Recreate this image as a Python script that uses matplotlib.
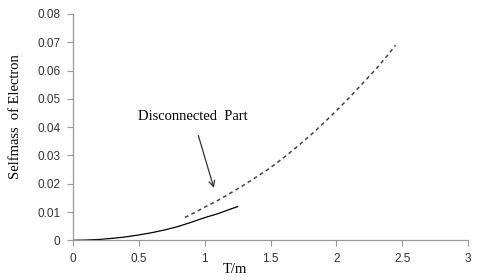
import matplotlib
matplotlib.use("Agg")
import matplotlib.pyplot as plt

# solid curve (connected part)
t_solid = [0.0, 0.1, 0.2, 0.3, 0.4, 0.5, 0.6, 0.7, 0.8, 0.9, 1.0, 1.1, 1.2, 1.25]
m_solid = [0.0, 0.0001, 0.0003, 0.0007, 0.0012, 0.0019, 0.0027, 0.0037, 0.0049,
           0.0064, 0.0080, 0.0094, 0.0111, 0.0119]

# dashed curve (disconnected part)
t_dash = [0.85, 0.9, 1.0, 1.1, 1.2, 1.3, 1.4, 1.5, 1.6, 1.7, 1.8, 1.9, 2.0,
          2.1, 2.2, 2.3, 2.4, 2.45]
m_dash = [0.0081, 0.0092, 0.0117, 0.0141, 0.0168, 0.0196, 0.0226, 0.0257, 0.0292,
          0.0330, 0.0370, 0.0413, 0.0458, 0.0505, 0.0555, 0.0605, 0.0660, 0.0690]

xticks = [0, 0.5, 1, 1.5, 2, 2.5, 3]
xticklabels = ["0", "0.5", "1", "1.5", "2", "2.5", "3"]
yticks = [0, 0.01, 0.02, 0.03, 0.04, 0.05, 0.06, 0.07, 0.08]
yticklabels = ["0", "0.01", "0.02", "0.03", "0.04", "0.05", "0.06", "0.07", "0.08"]

serif = ["Liberation Serif", "DejaVu Serif"]
sans = ["Liberation Sans", "DejaVu Sans"]

fig = plt.figure(figsize=(4.85, 2.8), dpi=100)
ax = fig.add_axes([0.1505, 0.1418, 0.8145, 0.8082])

ax.plot(t_solid, m_solid, color="black", lw=0.9)
ax.plot(t_dash, m_dash, color="#444444", lw=1.1, linestyle=(0, (2.5, 2.2)))

ax.set_xlim(0, 3)
ax.set_ylim(0, 0.08)
ax.set_xticks(xticks)
ax.set_xticklabels(xticklabels, family=sans, fontsize=8.5, color="#333333")
ax.set_yticks(yticks)
ax.set_yticklabels(yticklabels, family=sans, fontsize=8.5, color="#333333")

for s in ["top", "right"]:
    ax.spines[s].set_visible(False)
for s in ["left", "bottom"]:
    ax.spines[s].set_color("#999999")
    ax.spines[s].set_linewidth(0.9)
ax.tick_params(direction="out", length=4, width=0.8, color="#999999", pad=5)

ax.set_xlabel("T/m", family=serif, fontsize=10.5)
ax.xaxis.set_label_coords(0.41, -0.1)
ax.set_ylabel("Selfmass  of Electron", family=serif, fontsize=10.5)
ax.yaxis.set_label_coords(-0.128, 0.545)

ax.annotate("Disconnected  Part", xy=(1.07, 0.0185), xytext=(0.91, 0.0436),
            family=serif, fontsize=10.5, ha="center", va="center",
            arrowprops=dict(arrowstyle="->", color="#333333", lw=0.9,
                            shrinkA=7, shrinkB=0))

fig.savefig("out.png", dpi=100)
